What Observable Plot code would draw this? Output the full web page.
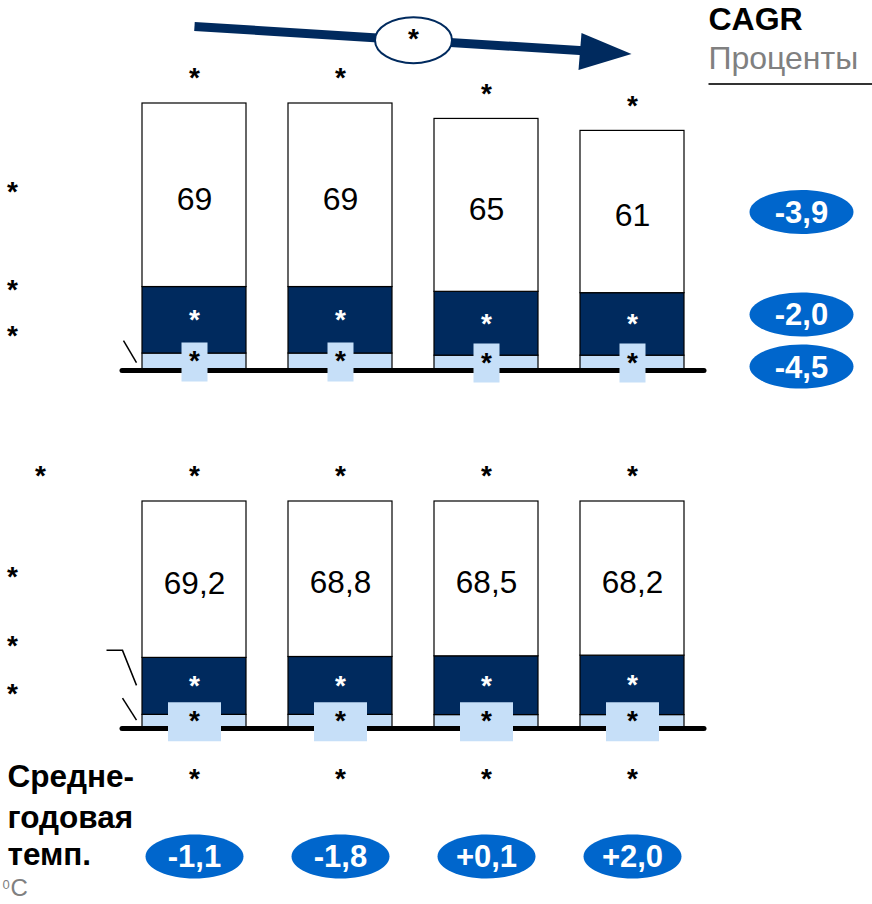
<!DOCTYPE html>
<html>
<head>
<meta charset="utf-8">
<script src="https://cdn.jsdelivr.net/npm/d3@7"></script>
<script src="https://cdn.jsdelivr.net/npm/@observablehq/plot@0.6"></script>
<style>
html, body { margin: 0; padding: 0; background: #fff; overflow: hidden; }
#chart { position: relative; width: 872px; height: 904px; overflow: hidden; }
#chart svg { display: block; }
</style>
</head>
<body>
<div id="chart"></div>
<script>
// ---------------- data ----------------
const periods = ["P1", "P2", "P3", "P4"];
const periodLabels = ["*", "*", "*", "*"];
const segKeys = ["light", "navy", "white"];          // bottom -> top
const segLabels = ["*", "*", "*"];
// top panel: absolute values
const absLight = [6, 6, 5.2, 5.2];
const absNavy = [25, 25, 24, 23.5];
const absWhite = [69, 69, 65, 61];
const absWhiteLabels = ["69", "69", "65", "61"];
const trendLabel = "*";
const cagrTitle = "CAGR";
const cagrUnit = "Проценты";
const cagrLabels = ["-4,5", "-2,0", "-3,9"];      // light, navy, white
// bottom panel: shares, %
const shareLight = [5.6, 5.6, 5.5, 5.5];
const shareNavy = [25.2, 25.6, 26.0, 26.3];
const shareWhite = [69.2, 68.8, 68.5, 68.2];
const shareWhiteLabels = ["69,2", "68,8", "68,5", "68,2"];
const shareHeaderLabel = "*";
const tempRowLabels = ["*", "*", "*", "*"];
const tempChange = ["-1,1", "-1,8", "+0,1", "+2,0"];
const tempTitleLines = ["Средне-", "годовая", "темп."];
const tempUnitSup = "0";
const tempUnit = "C";

// ---------------- style ----------------
const NAVY = "#002A5E", LIGHT = "#C6DFF8", BLUE = "#0066CC", GRAY = "#808080";
const FONT = "'Liberation Sans', Arial, Helvetica, sans-serif";

function stackRows(light, navy, white, whiteLabels) {
  const rows = [];
  periods.forEach((p, i) => {
    let base = 0;
    [light, navy, white].forEach((arr, j) => {
      const v = arr[i];
      rows.push({period: p, seg: segKeys[j], value: v, y1: base, y2: base + v, mid: base + v / 2,
                 label: j === 2 ? whiteLabels[i] : segLabels[j], i, j});
      base += v;
    });
  });
  return rows;
}

// custom symbols
function pathSymbol(points, close = false) {
  return {draw(ctx) { points.forEach(([x, y], k) => k ? ctx.lineTo(x, y) : ctx.moveTo(x, y)); if (close) ctx.closePath(); }};
}
function rectSymbol(w, h) { return {draw(ctx) { ctx.rect(-w / 2, -h / 2, w, h); }}; }
function ellipseSymbol(rx, ry) {
  const k = 0.5523;
  return {draw(ctx) {
    ctx.moveTo(rx, 0);
    ctx.bezierCurveTo(rx, ry * k, rx * k, ry, 0, ry);
    ctx.bezierCurveTo(-rx * k, ry, -rx, ry * k, -rx, 0);
    ctx.bezierCurveTo(-rx, -ry * k, -rx * k, -ry, 0, -ry);
    ctx.bezierCurveTo(rx * k, -ry, rx, -ry * k, rx, 0);
    ctx.closePath();
  }};
}

const xScale = {domain: periods, paddingInner: 42 / 146, paddingOuter: 20 / 146, round: false, axis: null};
const colorScale = {domain: segKeys, range: [LIGHT, NAVY, "#ffffff"]};
const star = {fontSize: 28, fontWeight: "bold"};

function panelMarks(rows, cfg) {
  const byJ = j => rows.filter(d => d.j === j);
  const first = rows.filter(d => d.i === 0);
  const marks = [
    Plot.barY(rows, {x: "period", y1: "y1", y2: "y2", fill: "seg", stroke: "#000", strokeWidth: 1.2}),
    Plot.ruleY([0], {stroke: "#000", strokeWidth: 5, strokeLinecap: "round", dy: 1}),
    Plot.dot(byJ(0), {x: "period", y: "mid", symbol: rectSymbol(cfg.boxW, 39), fill: LIGHT, stroke: "none", dy: 0.5}),
    Plot.text(byJ(2), {x: "period", y: "mid", text: "label", fontSize: cfg.numSize, fill: "#000", dy: 4}),
    Plot.text(byJ(1), {x: "period", y: "mid", text: "label", ...star, fill: "#fff", dy: 0}),
    Plot.text(byJ(0), {x: "period", y: "mid", text: "label", ...star, fill: "#000", dy: 0}),
    Plot.text(byJ(2), {x: "period", y: "y2", text: d => periodLabels[d.i], ...star, fill: "#000", dy: -25})
  ];
  // row labels on the left
  segKeys.forEach((s, j) => {
    marks.push(Plot.text(first.filter(d => d.j === j), {x: "period", y: "mid", text: d => segLabels[d.j], ...star, fill: "#000", dx: -182, dy: cfg.leftDy[j]}));
  });
  // leader lines
  cfg.leaders.forEach(([j, pts]) => {
    marks.push(Plot.dot(first.filter(d => d.j === j), {x: "period", y: "mid", symbol: pathSymbol(pts), fill: "none", stroke: "#000", strokeWidth: 1.5}));
  });
  return marks;
}

// ---------------- top chart ----------------
const topRows = stackRows(absLight, absNavy, absWhite, absWhiteLabels);
const totals = topRows.filter(d => d.j === 2).map(d => d.y2);
const trend = [{from: periods[0], to: periods[3], midP: periods[1], v1: totals[0], v2: totals[3], vm: (totals[0] + totals[3]) / 2}];
const lastTop = topRows.filter(d => d.i === 3);
const cagrDy = [4, -10, 0];

const topMarks = [
  ...panelMarks(topRows, {boxW: 26, numSize: 32, leftDy: [-25.5, -30.5, -3.5], leaders: [[0, [[-71, -21], [-58, 1]]]]}),
  // trend arrow
  Plot.arrow(trend, {x1: "from", y1: "v1", x2: "to", y2: "v2", dy: -77, stroke: NAVY, strokeWidth: 9, headLength: 0, insetEnd: 45, strokeLinecap: "butt"}),
  Plot.dot(trend, {x: "to", y: "v2", dy: -77, symbol: pathSymbol([[-1, 0], [-51, -21], [-54, 16]], true), fill: NAVY, stroke: "none"}),
  Plot.dot(trend, {x: "midP", y: "vm", dx: 73, dy: -77, symbol: ellipseSymbol(38.5, 23), fill: "#fff", stroke: NAVY, strokeWidth: 2}),
  Plot.text(trend, {x: "midP", y: "vm", dx: 73, dy: -78, text: () => trendLabel, ...star, fill: "#000"}),
  // CAGR header
  Plot.text([cagrTitle], {frameAnchor: "top-right", text: d => d, textAnchor: "start", dx: 4, dy: -96, fontSize: 32, fontWeight: "bold", fill: "#000"}),
  Plot.text([cagrUnit], {frameAnchor: "top-right", text: d => d, textAnchor: "start", dx: 4, dy: -57, fontSize: 32, fill: GRAY}),
  Plot.dot([0], {frameAnchor: "top-right", symbol: pathSymbol([[4, -19.5], [168, -19.5]]), fill: "none", stroke: "#333", strokeWidth: 2})
];
segKeys.forEach((s, j) => {
  const r = lastTop.filter(d => d.j === j);
  topMarks.push(Plot.dot(r, {x: "period", y: "mid", dx: 169, dy: cagrDy[j], symbol: ellipseSymbol(52, 22), fill: BLUE, stroke: "none"}));
  topMarks.push(Plot.text(r, {x: "period", y: "mid", dx: 169, dy: cagrDy[j] + 1, text: d => cagrLabels[d.j], fontSize: 31, fontWeight: "bold", fill: "#fff"}));
});

const topChart = Plot.plot({
  width: 872, height: 430,
  marginLeft: 122, marginRight: 168, marginTop: 103, marginBottom: 61,
  x: xScale,
  y: {domain: [0, 100], axis: null},
  color: colorScale,
  style: {fontFamily: FONT, background: "transparent", overflow: "visible"},
  marks: topMarks
});

// ---------------- bottom chart ----------------
const botRows = stackRows(shareLight, shareNavy, shareWhite, shareWhiteLabels);
const botTops = botRows.filter(d => d.j === 2);
const titleDy = [59.5, 100.5, 137];

const botMarks = [
  ...panelMarks(botRows, {boxW: 53, numSize: 31.5, leftDy: [-27, -40.5, -2.5],
    leaders: [[1, [[-88, -36], [-72, -36], [-58, -1]]], [0, [[-72, -23], [-58, -1]]]]}),
  Plot.text(botTops.filter(d => d.i === 0), {x: "period", y: "y2", text: () => shareHeaderLabel, ...star, fill: "#000", dx: -154, dy: -25}),
  // temperature row
  Plot.text(botTops, {x: "period", y: () => 0, text: d => tempRowLabels[d.i], ...star, fill: "#000", dy: 52}),
  Plot.dot(botTops, {x: "period", y: () => 0, dy: 129, symbol: ellipseSymbol(49, 22), fill: BLUE, stroke: "none"}),
  Plot.text(botTops, {x: "period", y: () => 0, dy: 130, text: d => tempChange[d.i], fontSize: 31, fontWeight: "bold", fill: "#fff"}),
  ...tempTitleLines.map((t, k) => Plot.text([t], {frameAnchor: "bottom-left", text: d => d, textAnchor: "start", dx: -115, dy: titleDy[k], fontSize: 31.5, fontWeight: "bold", fill: "#000"})),
  Plot.text([tempUnitSup], {frameAnchor: "bottom-left", text: d => d, textAnchor: "start", dx: -120, dy: 161.8, fontSize: 13, fill: GRAY}),
  Plot.text([tempUnit], {frameAnchor: "bottom-left", text: d => d, textAnchor: "start", dx: -112, dy: 168.8, fontSize: 24, fill: GRAY})
];

const botChart = Plot.plot({
  width: 872, height: 474,
  marginLeft: 122, marginRight: 168, marginTop: 71, marginBottom: 177,
  x: xScale,
  y: {domain: [0, 100], axis: null},
  color: colorScale,
  style: {fontFamily: FONT, background: "transparent", overflow: "visible"},
  marks: botMarks
});

const root = document.getElementById("chart");
root.appendChild(topChart);
root.appendChild(botChart);
</script>
</body>
</html>
